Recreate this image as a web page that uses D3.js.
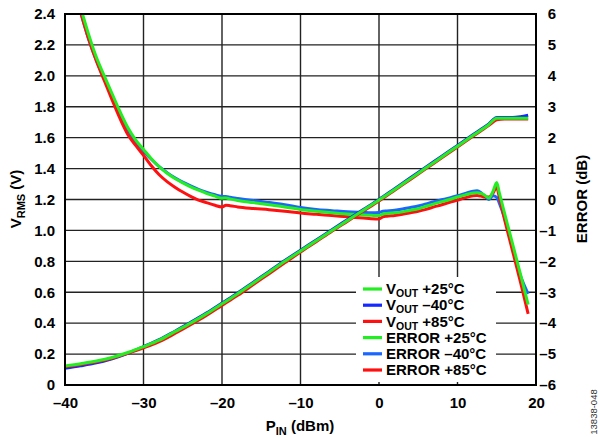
<!DOCTYPE html>
<html><head><meta charset="utf-8">
<script src="https://cdn.jsdelivr.net/npm/d3@7"></script>
<style>
html,body{margin:0;padding:0;background:#fff;}
svg{display:block;font-family:"Liberation Sans",Arial,sans-serif;}
</style></head>
<body>
<svg id="chart" width="599" height="437"></svg>
<script>
// ---------- data ----------
const voutPin = [-40,-38,-36,-34,-32,-30,-28,-26,-24,-22,-20,-18,-16,-14,-12,-10,-8,-6,-4,-2,0,2,4,6,8,10,11,12,13,14,14.5,15,16,17,18,19];
const vout25 = [0.123,0.138,0.155,0.178,0.21,0.248,0.29,0.345,0.40,0.46,0.525,0.59,0.66,0.73,0.80,0.867,0.933,1.0,1.065,1.13,1.197,1.265,1.335,1.405,1.475,1.545,1.58,1.615,1.65,1.685,1.71,1.725,1.725,1.725,1.725,1.725];
const voutM40 = [0.108,0.124,0.143,0.17,0.205,0.248,0.293,0.348,0.405,0.465,0.53,0.595,0.665,0.735,0.805,0.872,0.938,1.005,1.07,1.135,1.2,1.27,1.34,1.41,1.48,1.55,1.585,1.62,1.655,1.69,1.715,1.73,1.73,1.73,1.735,1.745];
const vout85 = [0.118,0.133,0.15,0.173,0.205,0.24,0.28,0.333,0.39,0.45,0.515,0.58,0.65,0.72,0.79,0.86,0.927,0.995,1.06,1.125,1.19,1.26,1.33,1.4,1.47,1.54,1.575,1.61,1.645,1.68,1.7,1.715,1.72,1.72,1.72,1.72];

const errPin = [-38,-37,-36,-35,-34,-33,-32,-31,-30,-29,-28,-27,-26,-25,-24,-23,-22,-21,-20,-19.5,-19,-18,-16,-14,-12,-10,-8,-6,-4,-2,-1,0,0.5,1,2,3,4,5,6,7,8,9,10,11,12,12.5,13,13.5,14,14.5,15,15.3,16,17,18,19];
const err25 = [6.2,5.35,4.6,4.0,3.42,2.85,2.33,1.93,1.62,1.32,1.06,0.85,0.68,0.54,0.41,0.3,0.2,0.12,0.04,0.05,0.02,-0.03,-0.1,-0.17,-0.24,-0.32,-0.38,-0.43,-0.47,-0.5,-0.51,-0.52,-0.47,-0.45,-0.43,-0.4,-0.35,-0.3,-0.22,-0.14,-0.07,0.0,0.08,0.15,0.21,0.22,0.2,0.13,0.05,0.25,0.55,0.25,-0.45,-1.42,-2.4,-3.4];
const errM40 = [6.05,5.2,4.5,3.9,3.33,2.78,2.26,1.86,1.57,1.3,1.06,0.87,0.7,0.56,0.44,0.33,0.24,0.16,0.1,0.1,0.07,0.03,-0.03,-0.1,-0.17,-0.26,-0.32,-0.36,-0.4,-0.42,-0.43,-0.42,-0.38,-0.37,-0.35,-0.31,-0.26,-0.21,-0.14,-0.07,-0.01,0.05,0.12,0.2,0.27,0.28,0.22,0.1,0.0,0.12,0.07,-0.1,-0.6,-1.55,-2.45,-3.05];
const err85 = [6.05,5.2,4.48,3.85,3.22,2.62,2.1,1.75,1.43,1.09,0.8,0.58,0.4,0.24,0.1,-0.02,-0.1,-0.18,-0.24,-0.19,-0.2,-0.24,-0.29,-0.33,-0.38,-0.44,-0.48,-0.52,-0.56,-0.6,-0.62,-0.63,-0.56,-0.54,-0.52,-0.48,-0.43,-0.38,-0.32,-0.24,-0.17,-0.09,-0.02,0.06,0.12,0.13,0.11,0.08,0.08,0.2,0.4,0.1,-0.65,-1.65,-2.65,-3.7];

const xTicks = [-40,-30,-20,-10,0,10,20];
const yLeftTicks = [0,0.2,0.4,0.6,0.8,1.0,1.2,1.4,1.6,1.8,2.0,2.2,2.4];
const yRightTicks = [-6,-5,-4,-3,-2,-1,0,1,2,3,4,5,6];

const seriesNames = ["+25°C","–40°C","+85°C"];
const voutColors = ["#22ee22","#1428ff","#ff1010"];
const errColors = ["#22ee22","#1a66ff","#ff1010"];

// ---------- layout ----------
const L = 65, R = 536, T = 14, B = 385;
const svg = d3.select("#chart");
svg.append("rect").attr("width",599).attr("height",437).attr("fill","#fff");

const x = d3.scaleLinear().domain([-40,20]).range([L,R]);
const yL = d3.scaleLinear().domain([0,2.4]).range([B,T]);
const yR = d3.scaleLinear().domain([-6,6]).range([B,T]);

const fmtDash = d => d < 0 ? "–" + Math.abs(d) : String(d);

// grid
const grid = svg.append("g").attr("stroke","#222").attr("stroke-width",1.4);
xTicks.slice(1,-1).forEach(t => grid.append("line").attr("x1",x(t)).attr("x2",x(t)).attr("y1",T).attr("y2",B));
yLeftTicks.slice(1,-1).forEach(t => grid.append("line").attr("x1",L).attr("x2",R).attr("y1",yL(t)).attr("y2",yL(t)));

// legend box (white) over grid
svg.append("rect").attr("x",356).attr("y",277).attr("width",140).attr("height",105).attr("fill","#fff");

// axes (labels only)
const axFont = g => g.selectAll("text").attr("font-size",15).attr("font-weight","bold").attr("fill","#000")
  .attr("font-family","'Liberation Sans',Arial,sans-serif");
const xAxis = svg.append("g").attr("transform",`translate(0,${B})`)
  .call(d3.axisBottom(x).tickValues(xTicks).tickSize(0).tickPadding(12).tickFormat(fmtDash));
xAxis.select(".domain").remove(); axFont(xAxis);
const yAxisL = svg.append("g").attr("transform",`translate(${L},0)`)
  .call(d3.axisLeft(yL).tickValues(yLeftTicks).tickSize(0).tickPadding(10)
    .tickFormat(d => d === 0 ? "0" : d3.format(".1f")(d)));
yAxisL.select(".domain").remove(); axFont(yAxisL);
const yAxisR = svg.append("g").attr("transform",`translate(${R},0)`)
  .call(d3.axisRight(yR).tickValues(yRightTicks).tickSize(0).tickPadding(20).tickFormat(fmtDash));
yAxisR.select(".domain").remove(); axFont(yAxisR);
yAxisR.selectAll("text").attr("text-anchor","end");

// clip
svg.append("clipPath").attr("id","plotclip").append("rect").attr("x",L).attr("y",T).attr("width",R-L).attr("height",B-T);
const plot = svg.append("g").attr("clip-path","url(#plotclip)");

const lineL = d3.line().x(d => x(d[0])).y(d => yL(d[1])).curve(d3.curveMonotoneX);
const lineR = d3.line().x(d => x(d[0])).y(d => yR(d[1])).curve(d3.curveMonotoneX);

const voutSeries = [vout25, voutM40, vout85];
const errSeries = [err25, errM40, err85];
const order = [1,2,0];
order.forEach(i => {
  plot.append("path").datum(errPin.map((p,k)=>[p,errSeries[i][k]]))
    .attr("d",lineR).attr("fill","none").attr("stroke",errColors[i]).attr("stroke-width",3).attr("stroke-linejoin","round");
});
order.forEach(i => {
  plot.append("path").datum(voutPin.map((p,k)=>[p,voutSeries[i][k]]))
    .attr("d",lineL).attr("fill","none").attr("stroke",voutColors[i]).attr("stroke-width",3).attr("stroke-linejoin","round");
});

// frame
svg.append("rect").attr("x",L).attr("y",T).attr("width",R-L).attr("height",B-T)
  .attr("fill","none").attr("stroke","#000").attr("stroke-width",2);

// legend
const leg = svg.append("g").attr("font-size",15).attr("font-weight","bold");
const legY0 = 289, legDY = 16.2;
const legItems = [];
seriesNames.forEach((n,i) => legItems.push({kind:"V", name:n, color:voutColors[i]}));
seriesNames.forEach((n,i) => legItems.push({kind:"E", name:n, color:errColors[i]}));
legItems.forEach((it,k) => {
  const yy = legY0 + k*legDY;
  leg.append("line").attr("x1",363).attr("x2",382).attr("y1",yy).attr("y2",yy)
    .attr("stroke",it.color).attr("stroke-width",3.2);
  const t = leg.append("text").attr("x",386).attr("y",yy+5.2).attr("fill","#000");
  if (it.kind === "V") {
    t.append("tspan").text("V");
    t.append("tspan").attr("font-size",10.5).attr("dy",3).text("OUT");
    t.append("tspan").attr("dy",-3).text(" " + it.name);
  } else {
    t.text("ERROR " + it.name);
  }
});

// axis titles
const xt = svg.append("text").attr("x",300).attr("y",431).attr("text-anchor","middle")
  .attr("font-size",15).attr("font-weight","bold");
xt.append("tspan").text("P");
xt.append("tspan").attr("font-size",11).attr("dy",3.5).text("IN");
xt.append("tspan").attr("dy",-3.5).text(" (dBm)");

const ylt = svg.append("text").attr("transform","translate(21,199) rotate(-90)").attr("text-anchor","middle")
  .attr("font-size",15).attr("font-weight","bold");
ylt.append("tspan").text("V");
ylt.append("tspan").attr("font-size",11).attr("dy",3.5).text("RMS");
ylt.append("tspan").attr("dy",-3.5).text(" (V)");

svg.append("text").attr("transform","translate(587,199) rotate(-90)").attr("text-anchor","middle")
  .attr("font-size",15).attr("font-weight","bold").text("ERROR (dB)");

svg.append("text").attr("transform","translate(597,412) rotate(-90)").attr("text-anchor","middle")
  .attr("font-size",9.5).attr("fill","#333").text("13838-048");
</script>
</body></html>
